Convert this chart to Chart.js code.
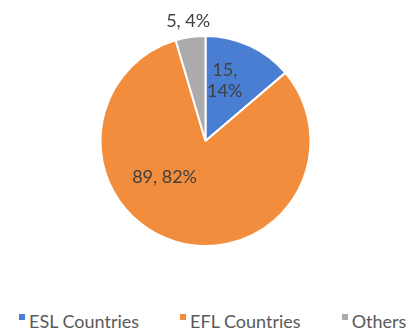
<!DOCTYPE html>
<html lang="en">
<head>
<meta charset="UTF-8">
<title>ESL / EFL Countries</title>
<script src="https://cdn.jsdelivr.net/npm/chart.js"></script>
<style>
  html, body {
    margin: 0;
    padding: 0;
    background: #ffffff;
  }
  #wrap {
    width: 411px;
    height: 333px;
    position: relative;
  }
  #pie-box {
    position: absolute;
    left: 0;
    top: 0;
    width: 411px;
    height: 282px;
  }
  #legend {
    position: absolute;
    left: 19px;
    top: 312px;
    display: flex;
    gap: 41px;
    font-family: Lato, sans-serif;
    font-size: 18px;
    line-height: 18px;
    color: #595959;
    white-space: nowrap;
  }
  #legend .item {
    display: flex;
    align-items: flex-start;
  }
  #legend .swatch {
    width: 6px;
    height: 6px;
    margin-top: 2px;
    margin-right: 4px;
  }
</style>
</head>
<body>
<div id="wrap">
  <div id="pie-box"><canvas id="countries-pie"></canvas></div>
  <div id="legend"></div>
</div>
<script>
// chart data
const categories = ["ESL Countries", "EFL Countries", "Others"];
const counts = [15, 89, 5];
const percentLabels = ["14%", "82%", "4%"];
const sliceColors = ["#4A7ED3", "#F18D3D", "#ABABAB"];

// where each value label sits: fraction of radius + angle nudge (deg), and line breaks
const labelPlacement = [
  { r: 0.60, shift: -7, lines: (v, p) => [v + ",", p] },
  { r: 0.52, shift: 32, lines: (v, p) => [v + ", " + p] },
  { r: 1.15, shift: 0, lines: (v, p) => [v + ", " + p] }
];

const valueLabels = {
  id: "valueLabels",
  afterDatasetsDraw(chart) {
    const ctx = chart.ctx;
    const meta = chart.getDatasetMeta(0);
    ctx.save();
    ctx.font = "18px Lato";
    ctx.fillStyle = "#404040";
    ctx.textAlign = "center";
    ctx.textBaseline = "middle";
    meta.data.forEach((arc, i) => {
      const p = arc.getProps(["x", "y", "startAngle", "endAngle", "outerRadius"], true);
      const place = labelPlacement[i];
      const mid = (p.startAngle + p.endAngle) / 2 + place.shift * Math.PI / 180;
      const cx = p.x + Math.cos(mid) * p.outerRadius * place.r;
      const cy = p.y + Math.sin(mid) * p.outerRadius * place.r;
      const lines = place.lines(counts[i], percentLabels[i]);
      const lh = 21;
      lines.forEach((t, k) => {
        ctx.fillText(t, cx, cy + (k - (lines.length - 1) / 2) * lh);
      });
    });
    ctx.restore();
  }
};

const pie = new Chart(document.getElementById("countries-pie"), {
  type: "pie",
  data: {
    labels: categories,
    datasets: [{
      data: counts,
      backgroundColor: sliceColors,
      borderColor: "#ffffff",
      borderWidth: 2,
      radius: 105
    }]
  },
  options: {
    responsive: true,
    maintainAspectRatio: false,
    animation: false,
    layout: { padding: 0 },
    plugins: {
      tooltip: { enabled: false },
      legend: { display: false }
    }
  },
  plugins: [valueLabels]
});

// legend built from the chart's own labels and colours
const legendEl = document.getElementById("legend");
pie.data.labels.forEach((name, i) => {
  const item = document.createElement("div");
  item.className = "item";
  const sw = document.createElement("span");
  sw.className = "swatch";
  sw.style.background = pie.data.datasets[0].backgroundColor[i];
  const txt = document.createElement("span");
  txt.textContent = name;
  item.appendChild(sw);
  item.appendChild(txt);
  legendEl.appendChild(item);
});
</script>
</body>
</html>
